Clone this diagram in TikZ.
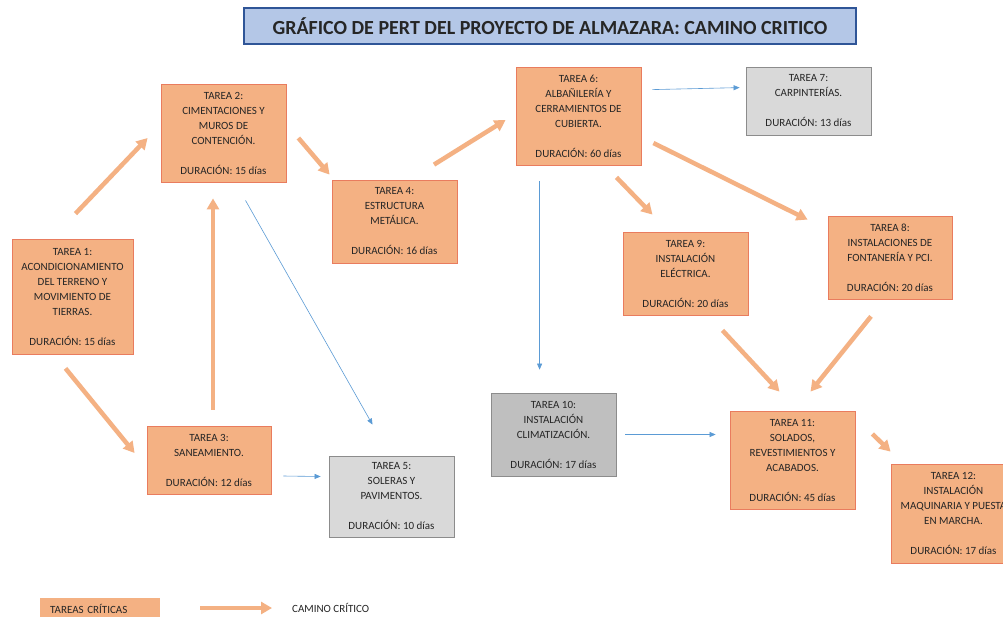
\documentclass[tikz,border=0pt]{standalone}
\usepackage{fontspec}
\setmainfont{Carlito}
\usepackage{xcolor}
\usetikzlibrary{arrows.meta, calc}

\definecolor{naranja}{HTML}{F4B183}
\definecolor{bordenar}{HTML}{E97C5E}
\definecolor{gris}{HTML}{D9D9D9}
\definecolor{grisosc}{HTML}{BFBFBF}
\definecolor{bordegris}{HTML}{8C8C8C}
\definecolor{azulclaro}{HTML}{B4C7E7}
\definecolor{azulosc}{HTML}{2F5597}
\definecolor{azulflecha}{HTML}{5B9BD5}

\begin{document}
\begin{tikzpicture}[
  x=1pt, y=-1pt,
  every node/.style={font=\fontsize{11}{15}\selectfont, text=black!85},
  critica/.style={rectangle, draw=bordenar, line width=0.8pt, fill=naranja, minimum width=125pt, align=center, inner xsep=0pt},
  tarea/.style={critica, draw=bordegris, fill=gris},
  tareaosc/.style={critica, draw=bordegris, fill=grisosc},
  titulo/.style={rectangle, draw=azulosc, line width=1.2pt, fill=azulclaro, minimum width=612pt, minimum height=36pt, font=\fontsize{20}{22}\selectfont\bfseries},
  camino/.style={-{Triangle[length=11pt, width=12pt]}, line width=4.5pt, draw=naranja},
  flecha/.style={-{Triangle[length=6pt, width=5pt]}, line width=0.6pt, draw=azulflecha},
]
  \clip (0,0) rectangle (1003,616);
  \fill[white] (0,0) rectangle (1003,616);

  \node[titulo] (titulo) at (550,26) {GRÁFICO DE PERT DEL PROYECTO DE ALMAZARA: CAMINO CRITICO};

  % tareas
  \node[critica, minimum width=121pt, minimum height=115pt] (t1) at (72.5,296.5) {TAREA 1:\\ACONDICIONAMIENTO\\DEL TERRENO Y\\MOVIMIENTO DE\\TIERRAS.\\[15pt]DURACIÓN: 15 días};
  \node[critica, minimum height=98pt] (t2) at (223.5,133) {TAREA 2:\\CIMENTACIONES Y\\MUROS DE\\CONTENCIÓN.\\[15pt]DURACIÓN: 15 días};
  \node[critica, minimum width=124pt, minimum height=68pt] (t3) at (209,460) {TAREA 3:\\SANEAMIENTO.\\[15pt]DURACIÓN: 12 días};
  \node[critica, minimum height=83pt] (t4) at (394.5,221.5) {TAREA 4:\\ESTRUCTURA\\METÁLICA.\\[15pt]DURACIÓN: 16 días};
  \node[tarea, minimum height=81pt] (t5) at (391.5,496.5) {TAREA 5:\\SOLERAS Y\\PAVIMENTOS.\\[15pt]DURACIÓN: 10 días};
  \node[critica, minimum height=98pt] (t6) at (578.5,116) {TAREA 6:\\ALBAÑILERÍA Y\\CERRAMIENTOS DE\\CUBIERTA.\\[15pt]DURACIÓN: 60 días};
  \node[tarea, minimum height=68pt] (t7) at (808.5,101) {TAREA 7:\\CARPINTERÍAS.\\[15pt]DURACIÓN: 13 días};
  \node[critica, minimum width=124pt, minimum height=83pt] (t8) at (890,257.5) {TAREA 8:\\INSTALACIONES DE\\FONTANERÍA Y PCI.\\[15pt]DURACIÓN: 20 días};
  \node[critica, minimum height=83pt] (t9) at (685.5,273.5) {TAREA 9:\\INSTALACIÓN\\ELÉCTRICA.\\[15pt]DURACIÓN: 20 días};
  \node[tareaosc, minimum height=83pt] (t10) at (553.5,434.5) {TAREA 10:\\INSTALACIÓN\\CLIMATIZACIÓN.\\[15pt]DURACIÓN: 17 días};
  \node[critica, minimum height=98pt] (t11) at (792.5,460) {TAREA 11:\\SOLADOS,\\REVESTIMIENTOS Y\\ACABADOS.\\[15pt]DURACIÓN: 45 días};
  \node[critica, minimum height=99pt] (t12) at (953.5,513.5) {TAREA 12:\\INSTALACIÓN\\MAQUINARIA Y PUESTA\\EN MARCHA.\\[15pt]DURACIÓN: 17 días};

  % camino critico
  \draw[camino] ($(t1.north)+(3,-25)$) -- ($(t2.west)+(-13,5)$);
  \draw[camino] ($(t1.south)+(-7,14)$) -- ($(t3.west)+(-12,-7)$);
  \draw[camino] ($(t3.north)+(4,-16)$) -- ($(t2.south)+(-10.5,16)$);
  \draw[camino] ($(t2.east)+(12,5)$) -- ($(t4.north west)+(-2,-5)$);
  \draw[camino] ($(t4.north)+(39.5,-15)$) -- ($(t6.west)+(-10,4)$);
  \draw[camino] ($(t6.south)+(38,12)$) -- ($(t9.north)+(-33,-17)$);
  \draw[camino] ($(t6.east)+(12,27)$) -- ($(t8.north west)+(-20,4)$);
  \draw[camino] ($(t9.south)+(37,15)$) -- ($(t11.north)+(-13,-19)$);
  \draw[camino] ($(t8.south)+(-19,17)$) -- ($(t11.north)+(18,-19)$);
  \draw[camino] ($(t11.east)+(17,-26)$) -- ($(t12.north west)+(0,-12)$);

  % tareas no criticas
  \draw[flecha] ($(t6.north east)+(11,23)$) -- ($(t7.north west)+(-6,21)$);
  \draw[flecha] ($(t6.south west)+(24,16)$) -- ($(t10.north west)+(49,-23)$);
  \draw[flecha] ($(t2.south)+(22,18)$) -- ($(t5.north)+(-19,-31)$);
  \draw[flecha] ($(t3.east)+(12,16)$) -- ($(t5.west)+(-8,-20)$);
  \draw[flecha] ($(t10.east)+(9,0)$) -- ($(t10.east -| t11.west)+(-14,0)$);

  % leyenda
  \node[rectangle, fill=naranja, minimum width=120pt, minimum height=22pt, text width=100pt, align=left, anchor=west] (leyenda) at (40,609) {TAREAS CRÍTICAS};
  \node[anchor=west, inner sep=0pt] (camino) at (292,608) {CAMINO CRÍTICO};
  \draw[camino] ($(leyenda.east)+(40,-1)$) -- ($(camino.west)+(-20,0)$);
\end{tikzpicture}
\end{document}
